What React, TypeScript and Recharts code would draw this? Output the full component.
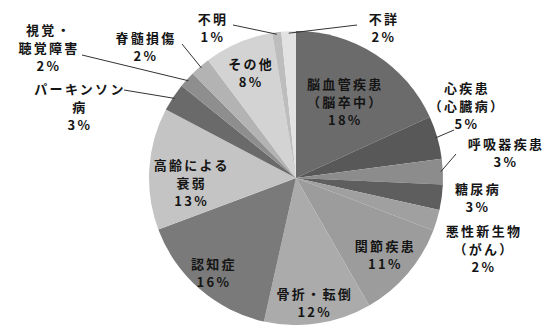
import React from "react";
import { PieChart, Pie, Cell } from "recharts";

// 介護が必要となった主な原因（構成割合, %）
const CATEGORIES = [
  "脳血管疾患（脳卒中）",
  "心疾患（心臓病）",
  "呼吸器疾患",
  "糖尿病",
  "悪性新生物（がん）",
  "関節疾患",
  "骨折・転倒",
  "認知症",
  "高齢による衰弱",
  "パーキンソン病",
  "視覚・聴覚障害",
  "脊髄損傷",
  "その他",
  "不明",
  "不詳",
];

const VALUES = [18.2, 4.7, 2.8, 2.8, 2.3, 10.9, 11.8, 15.8, 13.4, 3.1, 1.8, 2.2, 7.6, 1.0, 1.6];

const LABEL_LINES = [
  ["脳血管疾患", "（脳卒中）"],
  ["心疾患", "（心臓病）"],
  ["呼吸器疾患"],
  ["糖尿病"],
  ["悪性新生物", "（がん）"],
  ["関節疾患"],
  ["骨折・転倒"],
  ["認知症"],
  ["高齢による", "衰弱"],
  ["パーキンソン", "病"],
  ["視覚・", "聴覚障害"],
  ["脊髄損傷"],
  ["その他"],
  ["不明"],
  ["不詳"],
];

const COLORS = [
  "#6b6b6b", "#585858", "#8c8c8c", "#5e5e5e", "#a0a0a0",
  "#9c9c9c", "#ababab", "#7a7a7a", "#c4c4c4", "#6a6a6a",
  "#8e8e8e", "#b3b3b3", "#d3d3d3", "#bdbdbd", "#e2e2e2",
];

const data = CATEGORIES.map((name, i) => ({ name, value: VALUES[i] }));
const total = VALUES.reduce((s, v) => s + v, 0);

// label placement: "in" = along the slice's mid angle, "out" = label block + leader line
type Layout =
  | { kind: "in"; rf: number; da?: number }
  | { kind: "out"; x: number; y: number; lx?: number; ly?: number };

const LAYOUT: Layout[] = [
  { kind: "in", rf: 0.62 },
  { kind: "out", x: 467, y: 105, lx: 454, ly: 130 },
  { kind: "out", x: 506, y: 152, lx: 456, ly: 154 },
  { kind: "out", x: 478, y: 197 },
  { kind: "out", x: 484, y: 248 },
  { kind: "in", rf: 0.8 },
  { kind: "in", rf: 0.85 },
  { kind: "in", rf: 0.85 },
  { kind: "in", rf: 0.71, da: -6 },
  { kind: "out", x: 80, y: 106, lx: 124, ly: 90 },
  { kind: "out", x: 49, y: 47, lx: 82, ly: 55 },
  { kind: "out", x: 146, y: 46, lx: 182, ly: 44 },
  { kind: "in", rf: 0.78 },
  { kind: "out", x: 213, y: 27, lx: 233, ly: 25 },
  { kind: "out", x: 384, y: 27, lx: 357, ly: 25 },
];

const RAD = Math.PI / 180;
const LINE_H = 18;

const renderLabel = (props: any) => {
  const { cx, cy, midAngle, outerRadius, index } = props;
  const lay = LAYOUT[index];
  const lines = [...LABEL_LINES[index], `${Math.round((VALUES[index] / total) * 100)}%`];
  // clockwise angle from 12 o'clock
  const cw = 90 - midAngle;
  let x: number;
  let y: number;
  let leader: React.ReactNode = null;
  if (lay.kind === "in") {
    const a = (cw + (lay.da || 0)) * RAD;
    const r = outerRadius * lay.rf;
    x = cx + r * Math.sin(a);
    y = cy - r * Math.cos(a);
  } else {
    x = lay.x;
    y = lay.y;
    if (lay.lx !== undefined && lay.ly !== undefined) {
      const a = cw * RAD;
      const ex = cx + (outerRadius - 2) * Math.sin(a);
      const ey = cy - (outerRadius - 2) * Math.cos(a);
      leader = <polyline points={`${ex},${ey} ${lay.lx},${lay.ly}`} fill="none" stroke="#333" strokeWidth={1} />;
    }
  }
  const top = y - ((lines.length - 1) * LINE_H) / 2;
  return (
    <g key={`lbl-${index}`}>
      {leader}
      <text
        x={x}
        y={top}
        textAnchor="middle"
        dominantBaseline="central"
        fontFamily="'Noto Sans CJK JP', 'Noto Sans', sans-serif"
        fontSize={13}
        fontWeight={700}
        letterSpacing={2.3}
        fill="#151515"
      >
        {lines.map((t, k) => (
          <tspan key={k} x={x} y={top + k * LINE_H}>
            {t}
          </tspan>
        ))}
      </text>
    </g>
  );
};

export default function App() {
  return (
    <div style={{ width: 548, height: 325, background: "#fff" }}>
      <style>{`body{margin:0}`}</style>
      <PieChart width={548} height={325} margin={{ top: 0, right: 0, bottom: 0, left: 0 }}>
        <Pie
          data={data}
          dataKey="value"
          nameKey="name"
          cx={296}
          cy={178}
          outerRadius={147}
          startAngle={90}
          endAngle={-270}
          stroke="none"
          label={renderLabel}
          labelLine={false}
          isAnimationActive={false}
        >
          {data.map((_, i) => (
            <Cell key={i} fill={COLORS[i]} />
          ))}
        </Pie>
      </PieChart>
    </div>
  );
}
